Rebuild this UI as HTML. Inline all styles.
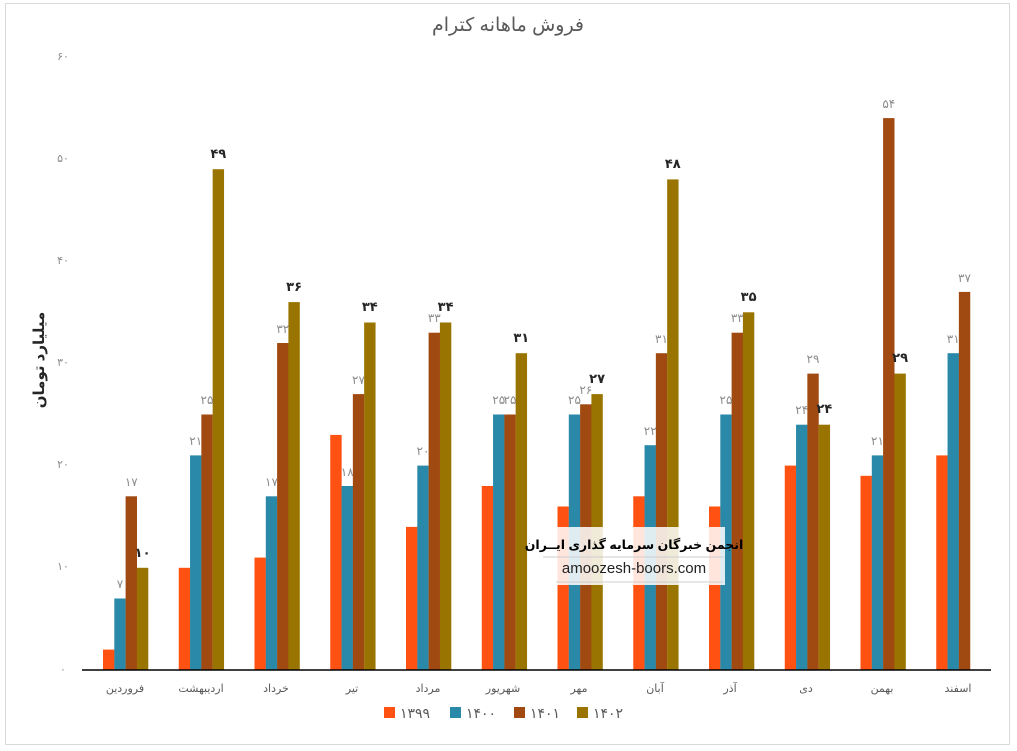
<!DOCTYPE html>
<html><head><meta charset="utf-8"><style>
body{margin:0;background:#fff;width:1017px;height:751px;overflow:hidden}
svg{display:block}
text{font-family:"Liberation Sans","DejaVu Sans",sans-serif}
</style></head><body>
<svg width="1017" height="751" xmlns="http://www.w3.org/2000/svg">
<rect x="5.5" y="3.5" width="1004" height="741" fill="#fff" stroke="#d9d9d9"/>
<text x="508" y="31" text-anchor="middle" font-size="19" fill="#595959">فروش ماهانه کترام</text>
<g font-size="11" fill="#8c8c8c" text-anchor="middle">
<text x="63" y="60">۶۰</text><text x="63" y="162">۵۰</text><text x="63" y="264">۴۰</text>
<text x="63" y="366">۳۰</text><text x="63" y="468">۲۰</text><text x="63" y="570">۱۰</text><text x="63" y="673">۰</text>
</g>
<text transform="translate(44,360) rotate(-90)" text-anchor="middle" font-size="15" font-weight="bold" fill="#262626">میلیارد تومان</text>
<g fill="#FF5212">
<rect x="103" y="649.6" width="11.4" height="20.4"/><rect x="178.75" y="567.8" width="11.4" height="102.2"/>
<rect x="254.5" y="557.6" width="11.4" height="112.4"/><rect x="330.25" y="434.9" width="11.4" height="235.1"/>
<rect x="406" y="526.9" width="11.4" height="143.1"/><rect x="481.75" y="486" width="11.4" height="184"/>
<rect x="557.5" y="506.5" width="11.4" height="163.5"/><rect x="633.25" y="496.3" width="11.4" height="173.7"/>
<rect x="709" y="506.5" width="11.4" height="163.5"/><rect x="784.75" y="465.6" width="11.4" height="204.4"/>
<rect x="860.5" y="475.8" width="11.4" height="194.2"/><rect x="936.25" y="455.4" width="11.4" height="214.6"/>
</g>
<g fill="#2A88A8">
<rect x="114.3" y="598.5" width="11.4" height="71.5"/><rect x="190.05" y="455.4" width="11.4" height="214.6"/>
<rect x="265.8" y="496.3" width="11.4" height="173.7"/><rect x="341.55" y="486" width="11.4" height="184"/>
<rect x="417.3" y="465.6" width="11.4" height="204.4"/><rect x="493.05" y="414.5" width="11.4" height="255.5"/>
<rect x="568.8" y="414.5" width="11.4" height="255.5"/><rect x="644.55" y="445.2" width="11.4" height="224.8"/>
<rect x="720.3" y="414.5" width="11.4" height="255.5"/><rect x="796.05" y="424.7" width="11.4" height="245.3"/>
<rect x="871.8" y="455.4" width="11.4" height="214.6"/><rect x="947.55" y="353.2" width="11.4" height="316.8"/>
</g>
<g fill="#A04A12">
<rect x="125.6" y="496.3" width="11.4" height="173.7"/><rect x="201.35" y="414.5" width="11.4" height="255.5"/>
<rect x="277.1" y="343" width="11.4" height="327"/><rect x="352.85" y="394.1" width="11.4" height="275.9"/>
<rect x="428.6" y="332.7" width="11.4" height="337.3"/><rect x="504.35" y="414.5" width="11.4" height="255.5"/>
<rect x="580.1" y="404.3" width="11.4" height="265.7"/><rect x="655.85" y="353.2" width="11.4" height="316.8"/>
<rect x="731.6" y="332.7" width="11.4" height="337.3"/><rect x="807.35" y="373.6" width="11.4" height="296.4"/>
<rect x="883.1" y="118.1" width="11.4" height="551.9"/><rect x="958.85" y="291.9" width="11.4" height="378.1"/>
</g>
<g fill="#9A7400">
<rect x="136.9" y="567.8" width="11.4" height="102.2"/><rect x="212.65" y="169.2" width="11.4" height="500.8"/>
<rect x="288.4" y="302.1" width="11.4" height="367.9"/><rect x="364.15" y="322.5" width="11.4" height="347.5"/>
<rect x="439.9" y="322.5" width="11.4" height="347.5"/><rect x="515.65" y="353.2" width="11.4" height="316.8"/>
<rect x="591.4" y="394.1" width="11.4" height="275.9"/><rect x="667.15" y="179.4" width="11.4" height="490.6"/>
<rect x="742.9" y="312.3" width="11.4" height="357.7"/><rect x="818.65" y="424.7" width="11.4" height="245.3"/>
<rect x="894.4" y="373.6" width="11.4" height="296.4"/>
</g>
<line x1="82" y1="670" x2="991" y2="670" stroke="#000" stroke-width="1.5"/>
<g font-size="12" fill="#8c8c8c" text-anchor="middle">
<text x="120" y="588">۷</text><text x="195.7" y="445">۲۱</text><text x="271.5" y="486">۱۷</text>
<text x="347.2" y="476">۱۸</text><text x="423" y="455">۲۰</text><text x="498.7" y="404">۲۵</text>
<text x="574.5" y="404">۲۵</text><text x="650.2" y="435">۲۲</text><text x="726" y="404">۲۵</text>
<text x="801.7" y="414">۲۴</text><text x="877.5" y="445">۲۱</text><text x="953.2" y="343">۳۱</text>
<text x="131.3" y="486">۱۷</text><text x="207" y="404">۲۵</text><text x="282.8" y="333">۳۲</text>
<text x="358.5" y="384">۲۷</text><text x="434.3" y="322">۳۳</text><text x="510" y="404">۲۵</text>
<text x="585.8" y="394">۲۶</text><text x="661.5" y="343">۳۱</text><text x="737.3" y="322">۳۳</text>
<text x="813" y="363">۲۹</text><text x="888.8" y="108">۵۴</text><text x="964.5" y="282">۳۷</text>
</g>
<g font-size="13" font-weight="bold" fill="#262626" text-anchor="middle">
<text x="142.6" y="557">۱۰</text><text x="218.3" y="158">۴۹</text><text x="294.1" y="291">۳۶</text>
<text x="369.8" y="311">۳۴</text><text x="445.6" y="311">۳۴</text><text x="521.3" y="342">۳۱</text>
<text x="597.1" y="383">۲۷</text><text x="672.8" y="168">۴۸</text><text x="748.6" y="301">۳۵</text>
<text x="824.3" y="413">۲۴</text><text x="900.1" y="362">۲۹</text>
</g>
<g font-size="11" fill="#595959" text-anchor="middle">
<text x="125" y="692">فروردین</text><text x="201" y="692">اردیبهشت</text><text x="276" y="692">خرداد</text>
<text x="352" y="692">تیر</text><text x="428" y="692">مرداد</text><text x="503" y="692">شهریور</text>
<text x="579" y="692">مهر</text><text x="655" y="692">آبان</text><text x="730" y="692">آذر</text>
<text x="806" y="692">دی</text><text x="882" y="692">بهمن</text><text x="958" y="692">اسفند</text>
</g>
<rect x="543" y="527" width="182" height="58" fill="#fff" opacity="0.85"/>
<text x="634" y="549" text-anchor="middle" font-size="12.5" font-weight="bold" fill="#000">انجمن خبرگان سرمایه گذاری ایــران</text>
<line x1="543" y1="557" x2="724" y2="557" stroke="#ccc"/>
<text x="634" y="573" text-anchor="middle" font-size="15" fill="#222" font-family="Liberation Serif,serif">amoozesh-boors.com</text>
<line x1="556" y1="582" x2="723" y2="582" stroke="#ccc"/>
<g font-size="14" fill="#595959">
<rect x="384" y="707" width="11" height="11" fill="#FF5212"/><text x="400" y="718">۱۳۹۹</text>
<rect x="450" y="707" width="11" height="11" fill="#2A88A8"/><text x="466" y="718">۱۴۰۰</text>
<rect x="514" y="707" width="11" height="11" fill="#A04A12"/><text x="530" y="718">۱۴۰۱</text>
<rect x="577" y="707" width="11" height="11" fill="#9A7400"/><text x="593" y="718">۱۴۰۲</text>
</g>
</svg>
</body></html>
